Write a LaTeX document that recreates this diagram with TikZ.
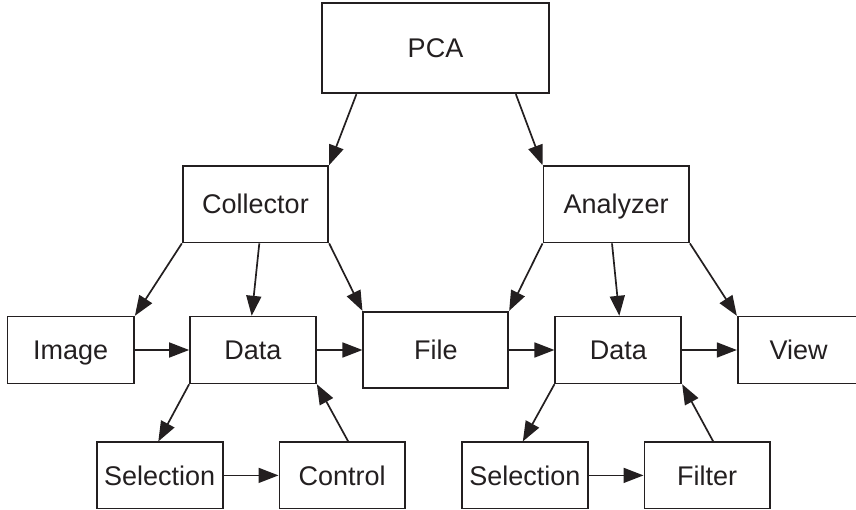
\documentclass[tikz,border=0pt]{standalone}
\usepackage{fontspec}
\setmainfont{Liberation Sans}
\usetikzlibrary{arrows.meta}
\definecolor{ink}{HTML}{231F20}
\begin{document}
\begin{tikzpicture}[x=1pt,y=-1pt,
  box/.style={draw=ink,line width=1.7pt,rectangle,inner sep=0pt,text=ink,
    text height=19.4pt,text depth=0pt,
    font=\fontsize{27}{31}\selectfont},
  arr/.style={draw=ink,line width=1.7pt,-{Triangle[length=20pt,width=15pt]}}]
\useasboundingbox (0,0) rectangle (856,510);
\node[box,minimum width=227.6pt,minimum height=90pt] (pca) at (435.5,48.3) {PCA};
\node[box,minimum width=145.6pt,minimum height=76.5pt] (coll) at (255.5,204.3) {Collector};
\node[box,minimum width=145.7pt,minimum height=76.5pt] (ana) at (616.2,204.3) {Analyzer};
\node[box,minimum width=126.7pt,minimum height=66.7pt] (img) at (70.7,350) {Image};
\node[box,minimum width=126pt,minimum height=66.7pt] (dataL) at (253,350) {Data};
\node[box,minimum width=145pt,minimum height=76pt] (file) at (435.8,349.7) {File};
\node[box,minimum width=126pt,minimum height=66.7pt] (dataR) at (618.3,350) {Data};
\node[box,minimum width=122pt,minimum height=66.7pt] (view) at (798.7,350) {View};
\node[box,minimum width=126pt,minimum height=66.2pt] (selL) at (159.7,475.4) {Selection};
\node[box,minimum width=125.7pt,minimum height=66.2pt] (ctrl) at (342.2,475.4) {Control};
\node[box,minimum width=126.3pt,minimum height=66.2pt] (selR) at (524.8,475.4) {Selection};
\node[box,minimum width=125.7pt,minimum height=66.2pt] (filt) at (707.2,475.4) {Filter};

\draw[arr] ([xshift=35.6pt]pca.south west) -- (coll.north east);
\draw[arr] ([xshift=-34.3pt]pca.south east) -- (ana.north west);
\draw[arr] (coll.south west) -- (img.north east);
\draw[arr] ([xshift=3.8pt]coll.south) -- ([xshift=-1.3pt]dataL.north);
\draw[arr] (coll.south east) -- (file.north west);
\draw[arr] (ana.south west) -- (file.north east);
\draw[arr] ([xshift=-4.2pt]ana.south) -- ([xshift=1pt]dataR.north);
\draw[arr] (ana.south east) -- (view.north west);
\draw[arr] (img.east) -- (dataL.west);
\draw[arr] (dataL.east) -- (file.west |- dataL.east);
\draw[arr] (file.east |- dataR.west) -- (dataR.west);
\draw[arr] (dataR.east) -- (view.west);
\draw[arr] (dataL.south west) -- ([xshift=-1.4pt]selL.north);
\draw[arr] ([xshift=6pt]ctrl.north) -- (dataL.south east);
\draw[arr] (selL.east) -- (ctrl.west);
\draw[arr] (dataR.south west) -- ([xshift=-2pt]selR.north);
\draw[arr] ([xshift=6pt]filt.north) -- (dataR.south east);
\draw[arr] (selR.east) -- (filt.west);
\end{tikzpicture}
\end{document}
